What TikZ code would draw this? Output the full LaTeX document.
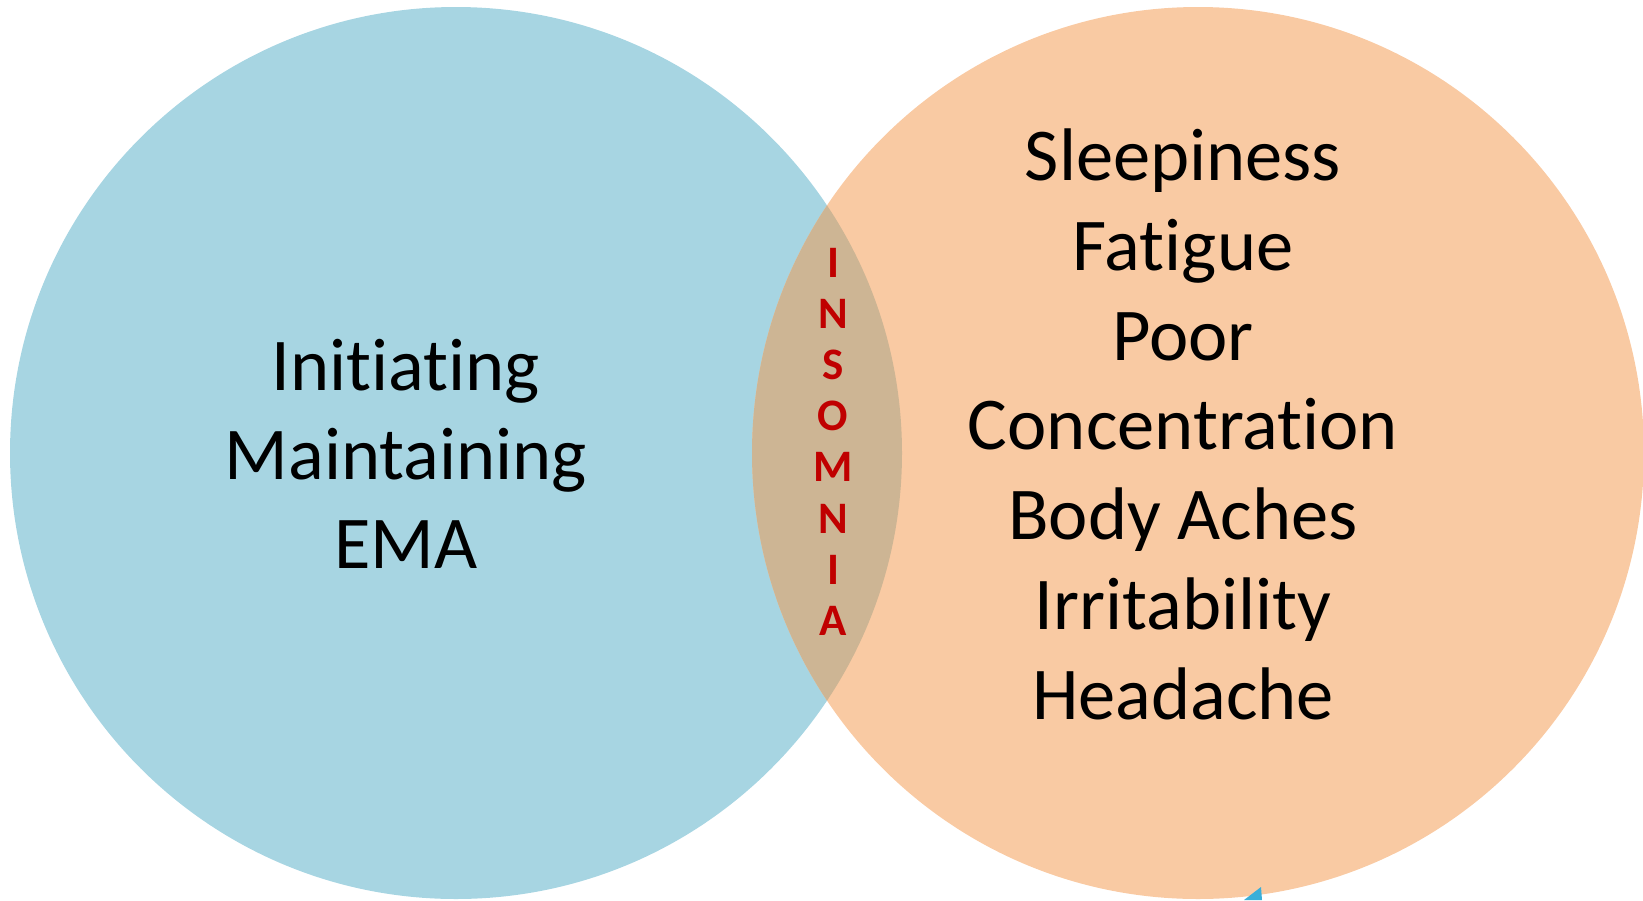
\documentclass[tikz,border=0pt]{standalone}
\usepackage{fontspec}
\setmainfont{Carlito}[Ligatures=NoCommon]
\definecolor{setblue}{HTML}{A7D5E2}
\definecolor{setorange}{HTML}{F9CAA3}
\definecolor{setmix}{HTML}{CDB594}
\definecolor{darkred}{HTML}{C00000}
\definecolor{markcyan}{HTML}{3AAFD9}
\begin{document}
\begin{tikzpicture}[x=1pt,y=-1pt,
  bigtext/.style={font=\fontsize{74.5}{90}\selectfont, text=black, anchor=base, inner sep=0pt},
  lettertext/.style={font=\fontsize{45}{50}\bfseries\selectfont, text=darkred, anchor=base, inner sep=0pt}]
  \useasboundingbox (0,0) rectangle (1643,900);
  % the two sets
  \fill[setblue] (456,453) circle[radius=446];
  \fill[setorange] (1198,453) circle[radius=446];
  % their intersection
  \begin{scope}
    \clip (456,453) circle[radius=446];
    \fill[setmix] (1198,453) circle[radius=446];
  \end{scope}
  % left set contents
  \node[bigtext] (l1) at (406,390) {Initiating};
  \node[bigtext] (l2) at (406,479) {Maintaining};
  \node[bigtext] (l3) at (406,568) {EMA};
  % right set contents
  \node[bigtext] (r1) at (1183,180) {Sleepiness};
  \node[bigtext] (r2) at (1183,270) {Fatigue};
  \node[bigtext] (r3) at (1183,360) {Poor};
  \node[bigtext] (r4) at (1183,449) {Concentration};
  \node[bigtext] (r5) at (1183,539) {Body Aches};
  \node[bigtext] (r6) at (1183,629) {Irritability};
  \node[bigtext] (r7) at (1183,719) {Headache};
  % vertical label in the overlap
  \foreach \ch [count=\k from 0] in {I,N,S,O,M,N,I,A}
    \node[lettertext] (c\k) at (833,277+51.2*\k) {\ch};
  % small cyan fragment at the bottom edge
  \fill[markcyan] (1261,887) -- (1262,900) -- (1244,900) -- cycle;
\end{tikzpicture}
\end{document}
